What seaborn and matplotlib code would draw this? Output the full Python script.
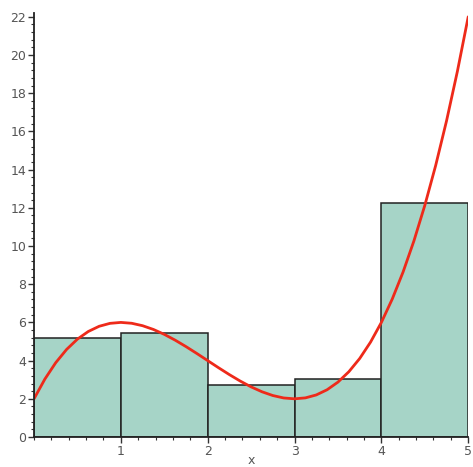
import matplotlib
matplotlib.use("Agg")
import matplotlib.pyplot as plt
import seaborn as sns
from matplotlib.ticker import MultipleLocator

# Bars (interval midpoints and heights)
bar_mid = [0.5, 1.5, 2.5, 3.5, 4.5]
bar_height = [5.2, 5.45, 2.7, 3.05, 12.25]
bin_edges = [0, 1, 2, 3, 4, 5]

# Curve samples
curve_x = [0, 0.125, 0.25, 0.375, 0.5, 0.625, 0.75, 0.875, 1, 1.125, 1.25, 1.375,
           1.5, 1.625, 1.75, 1.875, 2, 2.125, 2.25, 2.375, 2.5, 2.625, 2.75, 2.875,
           3, 3.125, 3.25, 3.375, 3.5, 3.625, 3.75, 3.875, 4, 4.125, 4.25, 4.375,
           4.5, 4.625, 4.75, 4.875, 5]
curve_y = [2, 3.033, 3.891, 4.584, 5.125, 5.525, 5.797, 5.951, 6, 5.955, 5.828, 5.631,
           5.375, 5.072, 4.734, 4.373, 4, 3.627, 3.266, 2.928, 2.625, 2.369, 2.172, 2.045,
           2, 2.049, 2.203, 2.475, 2.875, 3.416, 4.109, 4.967, 6, 7.221, 8.641, 10.271,
           12.125, 14.213, 16.547, 19.139, 22]

x_ticks = [1, 2, 3, 4, 5]
y_ticks = [0, 2, 4, 6, 8, 10, 12, 14, 16, 18, 20, 22]

sns.set_style("white")
plt.rcParams['font.family'] = ['DejaVu Sans']

fig = plt.figure(figsize=(4.73, 4.67), dpi=100)
ax = fig.add_axes([0.0719, 0.0642, 0.918, 0.908])

sns.histplot(x=bar_mid, weights=bar_height, bins=bin_edges, ax=ax,
             color="#a6d4c7", alpha=1.0, edgecolor="#222222", linewidth=1.1)

sns.lineplot(x=curve_x, y=curve_y, ax=ax, color="#ee2a1a", linewidth=2.0)

ax.set_xlim(0, 5)
ax.set_ylim(0, 22.2)
ax.set_xticks(x_ticks)
ax.set_yticks(y_ticks)
ax.xaxis.set_minor_locator(MultipleLocator(0.2))
ax.yaxis.set_minor_locator(MultipleLocator(0.4))
for s in ["top", "right"]:
    ax.spines[s].set_visible(False)
for s in ["left", "bottom"]:
    ax.spines[s].set_color("#222222")
    ax.spines[s].set_linewidth(1.3)
ax.tick_params(axis="both", which="both", bottom=True, left=True)
ax.tick_params(axis="both", which="major", direction="out", length=4, width=1,
               color="#333333", labelsize=9, labelcolor="#555555", pad=1.5)
ax.tick_params(axis="both", which="minor", direction="out", length=2.5, width=0.8,
               color="#333333")
ax.set_ylabel("")
ax.set_xlabel("x", fontsize=9, color="#555555", va="top")
ax.xaxis.set_label_coords(0.5, -0.04)
ax.grid(False)

fig.savefig("out.png", dpi=100)
